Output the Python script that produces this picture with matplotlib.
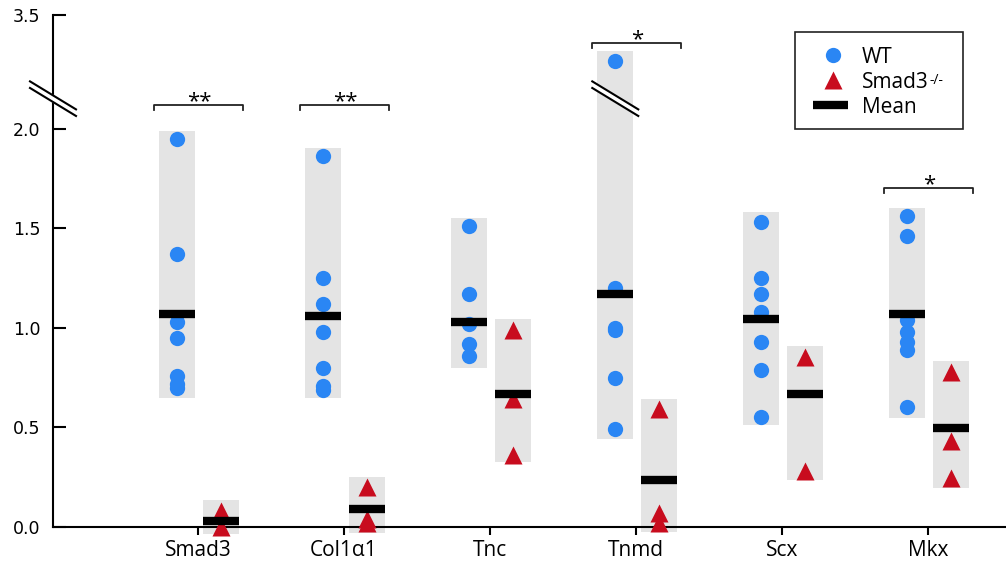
import numpy as np
import matplotlib
matplotlib.use('Agg')
import matplotlib.pyplot as plt
from matplotlib.lines import Line2D
from matplotlib.patches import Polygon, Rectangle
from matplotlib.transforms import blended_transform_factory

plt.rcParams['font.family'] = ['Open Sans', 'DejaVu Sans']

# data
genes = ['Smad3', 'Col1α1', 'Tnc', 'Tnmd', 'Scx', 'Mkx']
wt_values = [
    [1.95, 1.37, 1.03, 0.95, 0.76, 0.72, 0.70],
    [1.86, 1.25, 1.12, 0.98, 0.80, 0.71, 0.69],
    [1.51, 1.17, 1.02, 0.92, 0.86],
    [3.27, 1.20, 1.00, 0.99, 0.75, 0.49],
    [1.53, 1.25, 1.17, 1.08, 0.93, 0.79, 0.55],
    [1.56, 1.46, 1.04, 0.98, 0.93, 0.89, 0.60],
]
ko_values = [
    [0.08, 0.0],
    [0.20, 0.04, 0.02],
    [0.99, 0.64, 0.36],
    [0.59, 0.07, 0.02],
    [0.855, 0.28],
    [0.78, 0.43, 0.245],
]
wt_mean = [1.07, 1.06, 1.03, 1.17, 1.045, 1.07]
ko_mean = [0.03, 0.09, 0.67, 0.235, 0.67, 0.495]
wt_range = [(0.65, 1.99), (0.65, 1.90), (0.80, 1.55), (0.44, 3.32), (0.51, 1.58), (0.545, 1.60)]
ko_range = [(-0.035, 0.135), (-0.03, 0.25), (0.325, 1.045), (-0.025, 0.64), (0.235, 0.91), (0.195, 0.835)]
# (gene index, bracket height, stars)
signif = [(0, 3.05, '**'), (1, 3.05, '**'), (3, 3.36, '*'), (5, 1.70, '*')]
ytick_vals = [0.0, 0.5, 1.0, 1.5, 2.0, 3.5]
legend_labels = ['WT', 'Smad3', 'Mean']

blue = '#2a86f4'
red = '#c80c1e'
gray = '#e4e4e4'

# broken y axis: 2.0 - 3.0 squeezed into a small gap
GAP = 0.07


def fwd(v):
    v = np.asarray(v, dtype=float)
    return np.where(v <= 2, v, np.where(v >= 3, v - 1 + GAP, 2 + (v - 2) * GAP))


def inv(d):
    d = np.asarray(d, dtype=float)
    return np.where(d <= 2, d, np.where(d >= 2 + GAP, d + 1 - GAP, 2 + (d - 2) / GAP))


fig = plt.figure(figsize=(10.06, 5.61), dpi=100)
ax = fig.add_axes([53 / 1006, 34 / 561, 953 / 1006, 512 / 561])
ax.set_yscale('function', functions=(fwd, inv))

x = np.arange(len(genes))
off_wt, off_ko = -0.142, 0.158
w = 0.247

for i in range(len(genes)):
    for off, vals, m, rng, col, mk, ms in [
        (off_wt, wt_values[i], wt_mean[i], wt_range[i], blue, 'o', 11),
        (off_ko, ko_values[i], ko_mean[i], ko_range[i], red, '^', 13),
    ]:
        xc = x[i] + off
        ax.bar(xc, rng[1] - rng[0], bottom=rng[0], width=w, color=gray,
               zorder=1, clip_on=False)
        ax.plot([xc] * len(vals), vals, ls='none', marker=mk, ms=ms, color=col,
                mec='none', zorder=3, clip_on=False)
        ax.plot([xc - w / 2, xc + w / 2], [m, m], color='black', lw=6,
                solid_capstyle='butt', zorder=4)

for i, h, stars in signif:
    drop = 0.025
    ax.plot([x[i] - 0.3, x[i] - 0.3, x[i] + 0.31, x[i] + 0.31],
            [h - drop, h, h, h - drop], color='#222222', lw=1.3, zorder=5)
    ax.text(x[i] + 0.01, h - 0.012, stars, ha='center', va='baseline',
            fontsize=16, zorder=5)

ax.set_xlim(-0.993, 5.534)
ax.set_ylim(0, 3.5)
ax.set_yticks(ytick_vals)
ax.set_yticklabels(['%.1f' % t for t in ytick_vals], family='DejaVu Sans')
ax.yaxis.set_minor_locator(matplotlib.ticker.NullLocator())
ax.set_xticks(x)
ax.set_xticklabels(genes)

for s in ['top', 'right']:
    ax.spines[s].set_visible(False)
for s in ['left', 'bottom']:
    ax.spines[s].set_linewidth(1.5)
ax.tick_params(axis='y', direction='in', length=9, width=1.5, labelsize=12.5, pad=9)
ax.tick_params(axis='x', direction='out', length=6, width=1.5, labelsize=15, pad=3)

# legend drawn by hand so the box leaves room for the superscript
ta = ax.transAxes
ax.add_patch(Rectangle((0.7786, 0.7773), 0.1763, 0.1895, transform=ta,
                       facecolor='white', edgecolor='#222222', lw=1.2,
                       zorder=8, clip_on=False))
rows = [0.9219, 0.8730, 0.8242]
ax.plot([0.8185], [rows[0]], transform=ta, ls='none', marker='o', ms=11,
        color=blue, mec='none', zorder=9, clip_on=False)
ax.plot([0.8185], [rows[1]], transform=ta, ls='none', marker='^', ms=13,
        color=red, mec='none', zorder=9, clip_on=False)
ax.plot([0.7975, 0.8342], [rows[2], rows[2]], transform=ta, color='black',
        lw=6, solid_capstyle='butt', zorder=9, clip_on=False)
texts = []
for lab, ry in zip(legend_labels, rows):
    texts.append(ax.text(0.8489, ry, lab, transform=ta, fontsize=15,
                         va='center_baseline', ha='left', zorder=9))

fig.canvas.draw()
to_fig = fig.transFigure.inverted()

# superscript -/- after Smad3
bb = texts[1].get_window_extent()
sx, sy = to_fig.transform((bb.x1 + 1, bb.y1 - 1))
fig.text(sx, sy, '-/-', fontsize=10, va='top', ha='left', zorder=10)


# axis-break marks
def draw_break(cx, cy):
    l1 = np.array([[cx - 23, cy + 3.3 + 14], [cx + 23, cy + 3.3 - 14]])
    l2 = np.array([[cx - 23, cy - 3.3 + 14], [cx + 23, cy - 3.3 - 14]])
    poly = np.vstack([l1, l2[::-1]])
    fig.add_artist(Polygon(to_fig.transform(poly), closed=True, color='white',
                           transform=fig.transFigure, zorder=6))
    for ln in (l1, l2):
        p = to_fig.transform(ln)
        fig.add_artist(Line2D(p[:, 0], p[:, 1], color='black', lw=1.5,
                              transform=fig.transFigure, zorder=7))


bt = blended_transform_factory(ax.transAxes, ax.transData)
cx, cy = bt.transform((0, 3.08))
draw_break(cx, cy)
cx, cy = ax.transData.transform((x[3] + off_wt, 3.08))
draw_break(cx, cy)

fig.savefig('out.png', dpi=100)
